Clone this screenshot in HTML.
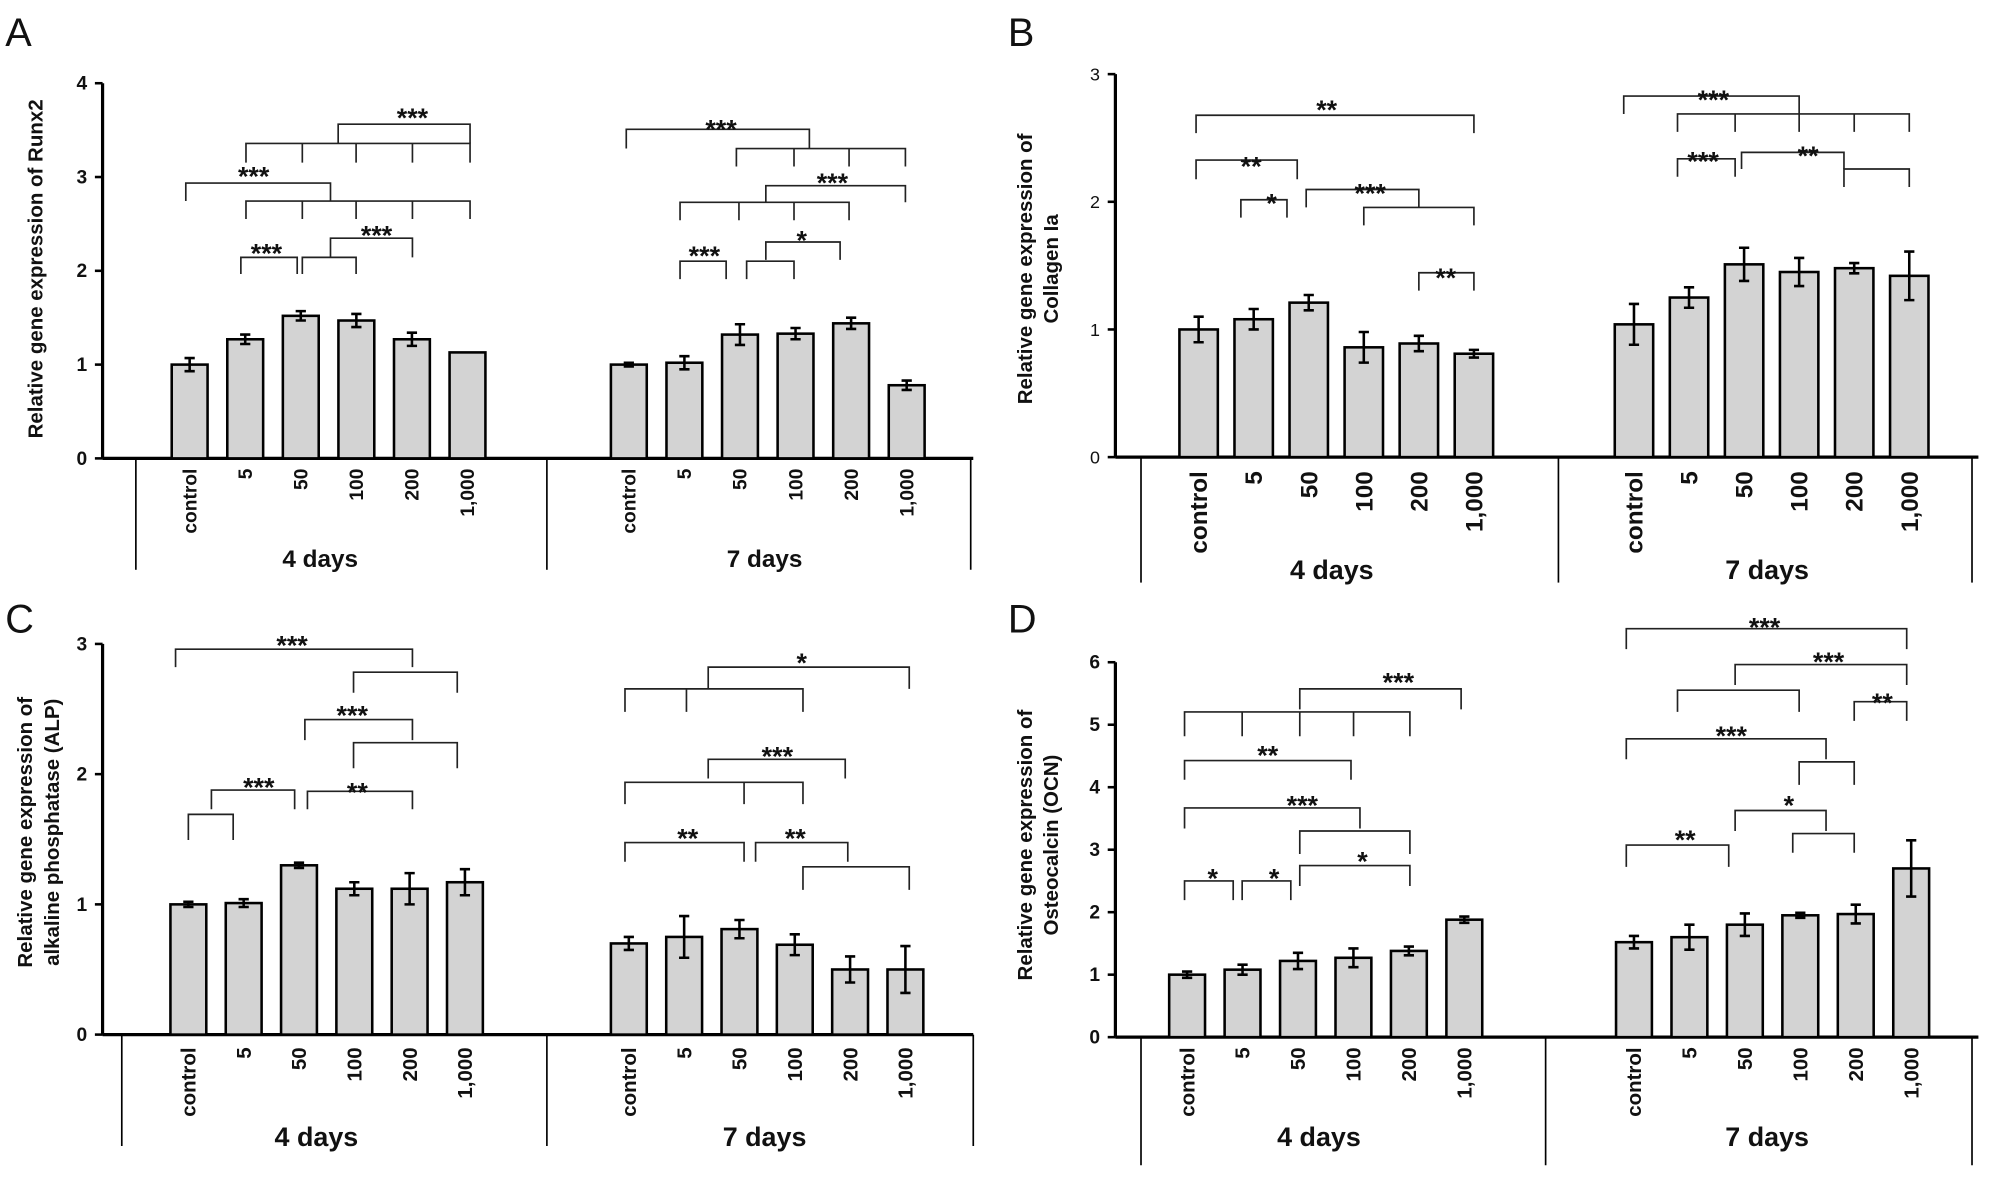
<!DOCTYPE html>
<html><head><meta charset="utf-8"><style>
html,body{margin:0;padding:0;background:#fff;}
svg{display:block;}
text{font-family:"Liberation Sans",Arial,sans-serif;fill:#111;}
</style></head><body>
<svg id="fig" width="2008" height="1178" viewBox="0 0 1568 920" xmlns="http://www.w3.org/2000/svg"></svg>
<script>
// ---- data ----
const categories = ["control","5","50","100","200","1,000"];
const groups = ["4 days","7 days"];
const runx2Day4 = [1.0,1.27,1.52,1.47,1.27,1.13];
const runx2Day4Err = [0.07,0.05,0.05,0.07,0.07,0.0];
const runx2Day7 = [1.0,1.02,1.32,1.33,1.44,0.78];
const runx2Day7Err = [0.02,0.07,0.11,0.06,0.06,0.05];
const colDay4 = [1.0,1.08,1.21,0.86,0.89,0.81];
const colDay4Err = [0.1,0.08,0.06,0.12,0.06,0.03];
const colDay7 = [1.04,1.25,1.51,1.45,1.48,1.42];
const colDay7Err = [0.16,0.08,0.13,0.11,0.04,0.19];
const alpDay4 = [1.0,1.01,1.3,1.12,1.12,1.17];
const alpDay4Err = [0.02,0.03,0.02,0.05,0.12,0.1];
const alpDay7 = [0.7,0.75,0.81,0.69,0.5,0.5];
const alpDay7Err = [0.05,0.16,0.07,0.08,0.1,0.18];
const ocnDay4 = [1.0,1.08,1.22,1.27,1.38,1.88];
const ocnDay4Err = [0.05,0.08,0.13,0.15,0.07,0.05];
const ocnDay7 = [1.52,1.6,1.8,1.95,1.97,2.7];
const ocnDay7Err = [0.1,0.2,0.18,0.04,0.15,0.45];
const ticksA = [0,1,2,3,4];
const ticksB = [0,1,2,3];
const ticksC = [0,1,2,3];
const ticksD = [0,1,2,3,4,5,6];
// significance brackets (annotation layout): [x1,x2,y,drop,legs...]
const bracketsA = [[264,367,97,15],[192,367,112,15,236,278,322],[145,258,143,14],[192,367,157,14,236,278,322],[188,232,201,13],[258,322,186,15],[236,278,201,13],
[489,632,101,15],[575,707,116,14,620,663],[598,707,145,13],[531,663,158,14,577,620],[531,567,204,14],[598,656,189,14],[583,620,204,14]];
const starsA = [[322,90,"***"],[198,136,"***"],[208,196,"***"],[294,182,"***"],[563,99,"***"],[650,141,"***"],[550,198,"***"],[626,186,"*"]];
const bracketsB = [[934,1151,90,14],[934,1013,125,15],[969,1005,156,14],[1020,1108,148,14],[1065,1151,162,14],[1108,1151,213,14],
[1268,1405,75,14],[1310,1491,89,14,1355,1405,1448],[1310,1355,124,14],[1360,1440,119,13],[1440,1491,132,14]];
const starsB = [[1036,84,"**"],[977,128,"**"],[993,157,"*"],[1070,149,"***"],[1129,215,"**"],[1338,76,"***"],[1330,124,"***"],[1412,120,"**"]];
const bracketsC = [[137,322,507,14],[276,357,525,16],[238,322,562,16],[276,357,580,20],[165,230,617,15],[240,322,618,14],[147,182,636,20],
[553,710,521,17],[488,627,538,18,536],[553,660,593,15],[488,627,611,17,581],[488,581,658,15],[590,662,658,15],[627,710,677,18]];
const starsC = [[228,502,"***"],[275,557,"***"],[202,613,"***"],[279,617,"**"],[626,516,"*"],[607,589,"***"],[537,653,"**"],[621,653,"**"]];
const bracketsD = [[1015,1141,538,16],[925,1101,556,19,970,1015,1057],[925,1055,594,15],[925,1062,631,16],[1015,1101,649,18],[925,963,688,15],[970,1008,688,15],[1015,1101,676,16],
[1270,1489,491,16],[1355,1489,519,16],[1310,1405,539,17],[1448,1489,548,15],[1270,1426,577,16],[1405,1448,595,18],[1355,1426,633,16],[1400,1448,651,15],[1270,1350,660,17]];
const starsD = [[1092,531,"***"],[990,588,"**"],[1017,627,"***"],[947,684,"*"],[995,684,"*"],[1064,671,"*"],[1378,488,"***"],[1428,515,"***"],[1470,547,"**"],[1352,573,"***"],[1397,627,"*"],[1316,654,"**"]];

const panels = [
 {id:"a",letter:"A",lx:4,ly:36,ax:80,y0:358,unit:73.25,ticks:ticksA,top:65,end:760,c4:148,c7:491,sp:43.4,bw:28,
  v4:runx2Day4,e4:runx2Day4Err,v7:runx2Day7,e7:runx2Day7Err,seps:[106,427,758],sepBot:445,labTop:366,labSize:15,gy:443,gx:[250,597],gSize:19,serif:false,
  title:["Relative gene expression of Runx2"],tx:[27],ty:210,br:bracketsA,st:starsA},
 {id:"b",letter:"B",lx:787,ly:36,ax:871,y0:357,unit:99.7,ticks:ticksB,top:58,end:1545,c4:936,c7:1276,sp:43,bw:30,
  v4:colDay4,e4:colDay4Err,v7:colDay7,e7:colDay7Err,seps:[891,1217,1540],sepBot:455,labTop:368,labSize:19,gy:452,gx:[1040,1380],gSize:21,serif:true,
  title:["Relative gene expression of","Collagen Ia"],tx:[800,820],ty:210,br:bracketsB,st:starsB},
 {id:"c",letter:"C",lx:4,ly:494,ax:80,y0:808,unit:101.7,ticks:ticksC,top:503,end:760,c4:147,c7:491,sp:43.2,bw:28,
  v4:alpDay4,e4:alpDay4Err,v7:alpDay7,e7:alpDay7Err,seps:[95,427,760],sepBot:895,labTop:818,labSize:16,gy:895,gx:[247,597],gSize:21,serif:false,
  title:["Relative gene expression of","alkaline phosphatase (ALP)"],tx:[19,40],ty:650,br:bracketsC,st:starsC},
 {id:"d",letter:"D",lx:787,ly:494,ax:871,y0:810,unit:48.8,ticks:ticksD,top:517,end:1545,c4:927,c7:1276,sp:43.3,bw:28,
  v4:ocnDay4,e4:ocnDay4Err,v7:ocnDay7,e7:ocnDay7Err,seps:[891,1207,1540],sepBot:910,labTop:818,labSize:16,gy:895,gx:[1030,1380],gSize:21,serif:false,
  title:["Relative gene expression of","Osteocalcin (OCN)"],tx:[800,820],ty:660,br:bracketsD,st:starsD}
];
const NS="http://www.w3.org/2000/svg";
const svg=document.getElementById('fig');
function mk(tag,attrs,parent,txt){const e=document.createElementNS(NS,tag);for(const k in attrs)e.setAttribute(k,attrs[k]);if(txt!==undefined)e.textContent=txt;parent.appendChild(e);return e;}
panels.forEach(p=>{
  const g=mk('g',{},svg);
  
  
  const yS=v=>p.y0-v*p.unit;
  const L=mk('text',{x:p.lx,y:p.ly,'font-size':31},g,p.letter);
  
  
  const ya=mk('line',{x1:p.ax,y1:yS(p.ticks[p.ticks.length-1]),x2:p.ax,y2:p.y0,stroke:'#000','stroke-width':2.5},g);
  
  
  p.ticks.forEach(t=>{
    mk('line',{x1:p.ax-6,y1:yS(t),x2:p.ax,y2:yS(t),stroke:'#000','stroke-width':2},g);
    const tl=mk('text',{x:p.ax-12,y:yS(t)+5,'text-anchor':'end','font-size':p.serif?14:15,'font-weight':p.serif?'normal':'bold','font-family':p.serif?'Liberation Serif, serif':'Liberation Sans, sans-serif'},g,String(t));
    
    
  });
  const xa=mk('line',{x1:p.ax,y1:p.y0,x2:p.end,y2:p.y0,stroke:'#000','stroke-width':2.5},g);
  
  
  p.seps.forEach(s=>mk('line',{x1:s,y1:p.y0,x2:s,y2:p.sepBot,stroke:'#000','stroke-width':1.3},g));
  p.title.forEach((t,i)=>{
    const tt=mk('text',{x:0,y:0,transform:`translate(${p.tx[i]+6},${p.ty}) rotate(-90)`,'text-anchor':'middle','font-size':16,'font-weight':'bold'},g,t);
    
    
  });
  [[p.c4,p.v4,p.e4],[p.c7,p.v7,p.e7]].forEach((gr,gi)=>{
    gr[1].forEach((v,i)=>{
      const cx=gr[0]+i*p.sp;
      const r=mk('rect',{x:cx-p.bw/2,y:yS(v),width:p.bw,height:p.y0-yS(v),fill:'#d3d3d3',stroke:'#000','stroke-width':2},g);
      
      
      const e=gr[2][i];
      if(e>0){
        const eb=mk('path',{d:`M${cx},${yS(v+e)}V${yS(v-e)}M${cx-4},${yS(v+e)}H${cx+4}M${cx-4},${yS(v-e)}H${cx+4}`,stroke:'#000','stroke-width':2,fill:'none'},g);
        
        
      }
      const cl=mk('text',{x:0,y:0,transform:`translate(${cx+p.labSize*0.35},${p.labTop}) rotate(-90)`,'text-anchor':'end','font-size':p.labSize,'font-weight':'bold'},g,categories[i]);
      
      
    });
    const gl=mk('text',{x:p.gx[gi],y:p.gy,'text-anchor':'middle','font-size':p.gSize,'font-weight':'bold'},g,groups[gi]);
    
    
  });
  p.br.forEach(b=>{
    let d=`M${b[0]},${b[2]+b[3]}V${b[2]}H${b[1]}V${b[2]+b[3]}`;
    for(let k=4;k<b.length;k++)d+=`M${b[k]},${b[2]}V${b[2]+b[3]}`;
    const br=mk('path',{d:d,stroke:'#222','stroke-width':1.3,fill:'none'},g);
    
    
  });
  p.st.forEach(s=>{
    const st=mk('text',{x:s[0],y:s[1]+9,'text-anchor':'middle','font-size':21,'font-weight':'bold'},g,s[2]);
    
    
  });
});
</script>
</body></html>
